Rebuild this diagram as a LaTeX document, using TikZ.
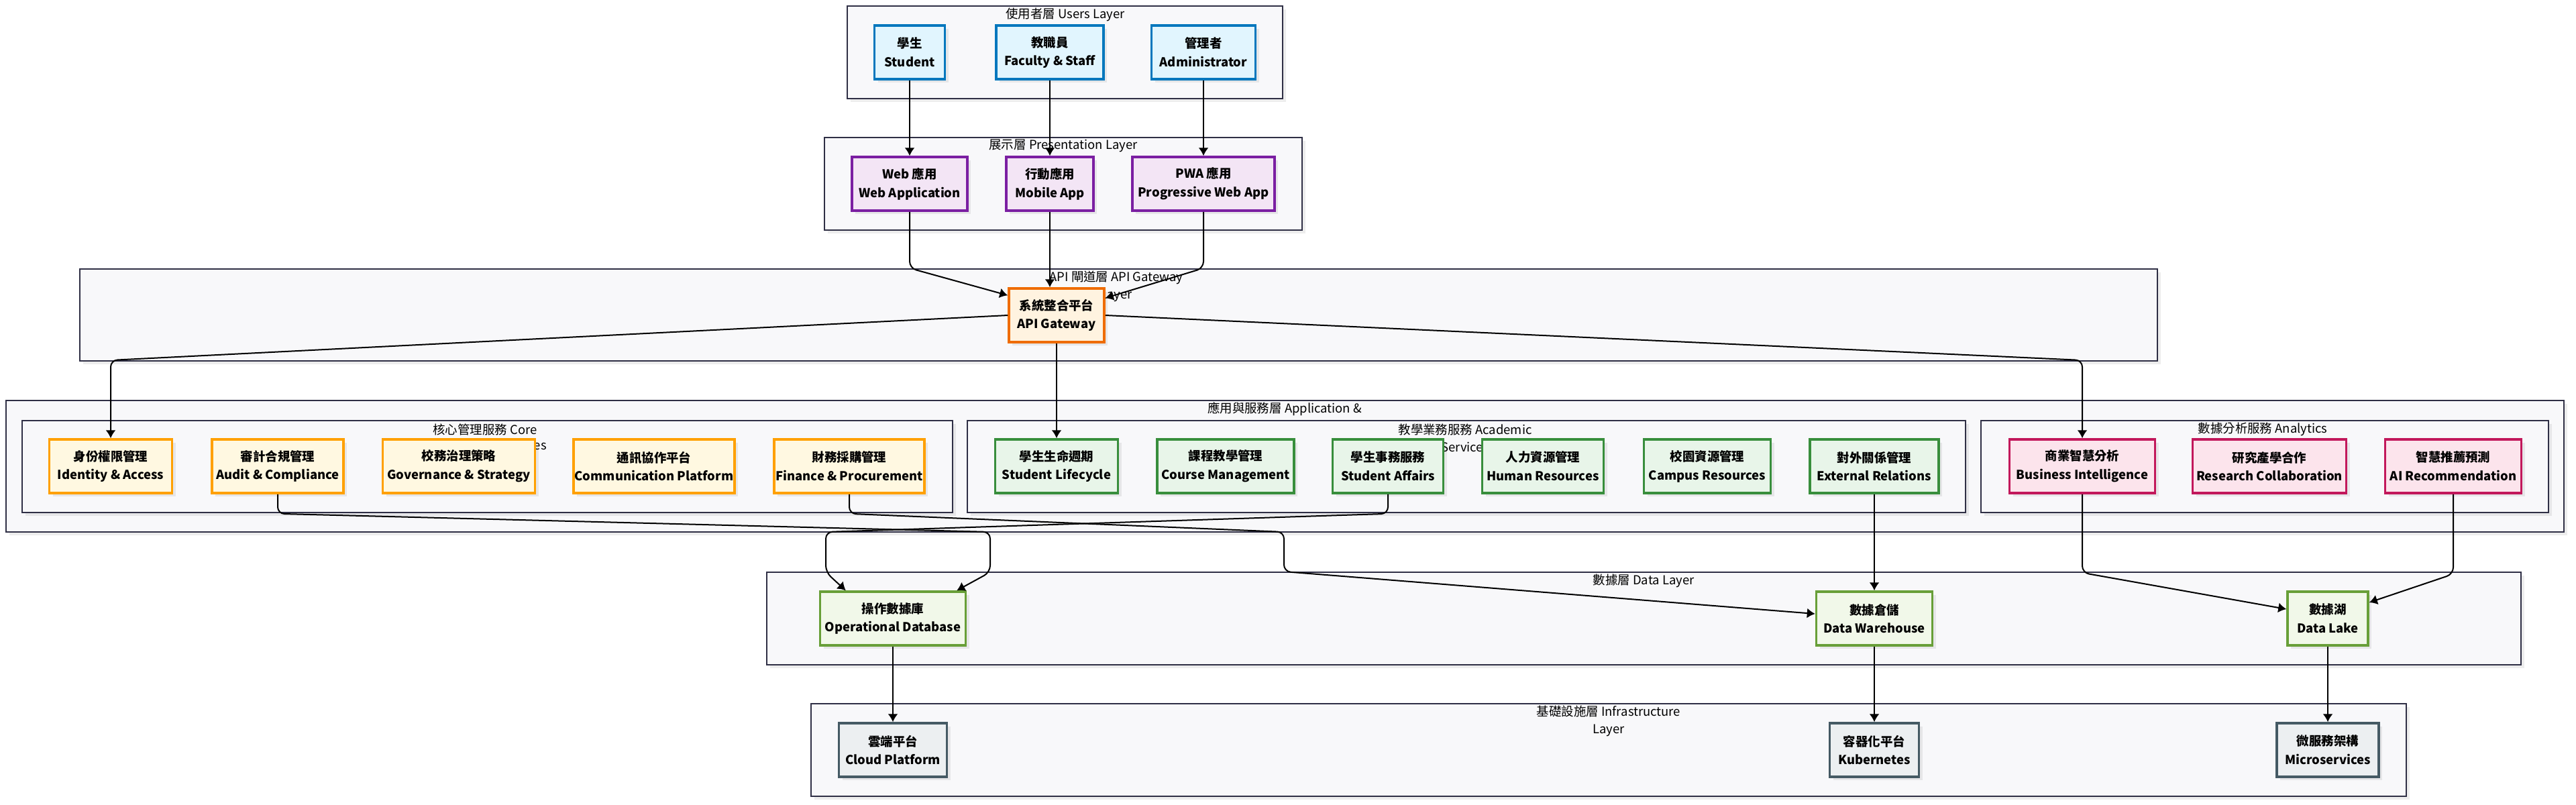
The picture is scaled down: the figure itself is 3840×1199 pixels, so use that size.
\documentclass[tikz,border=0pt]{standalone}
\usepackage{fontspec}
\setmainfont{Noto Sans CJK TC}
\usetikzlibrary{positioning, arrows.meta, shadows}

\definecolor{layerfill}{HTML}{F8F8FA}
\definecolor{layerdraw}{HTML}{2F2F45}
\definecolor{userfill}{HTML}{E1F5FE}
\definecolor{userdraw}{HTML}{0277BD}
\definecolor{presfill}{HTML}{F3E5F5}
\definecolor{presdraw}{HTML}{7B1FA2}
\definecolor{gwfill}{HTML}{FFF3E0}
\definecolor{gwdraw}{HTML}{EF6C00}
\definecolor{corefill}{HTML}{FFF8E1}
\definecolor{coredraw}{HTML}{FFA000}
\definecolor{acadfill}{HTML}{E8F5E9}
\definecolor{acaddraw}{HTML}{388E3C}
\definecolor{anafill}{HTML}{FCE4EC}
\definecolor{anadraw}{HTML}{C2185B}
\definecolor{datafill}{HTML}{F1F8E9}
\definecolor{datadraw}{HTML}{689F38}
\definecolor{infrafill}{HTML}{ECEFF1}
\definecolor{infradraw}{HTML}{455A64}

\tikzset{
  softshadow/.style={drop shadow={shadow xshift=1mm, shadow yshift=-1mm, fill=black, opacity=0.07}},
  layerbox/.style={draw=layerdraw, fill=layerfill, line width=0.45mm, softshadow},
  laytitle/.style={font=\fontsize{10.5}{14.8}\selectfont, inner sep=0pt, align=center},
  svcbox/.style={draw, line width=0.7mm, minimum height=16mm, inner sep=0pt, align=center,
    font=\bfseries\fontsize{10.5}{15.8}\selectfont, softshadow},
  bw/.style={minimum width=#1*0.2mm},
  usernode/.style={svcbox, draw=userdraw, fill=userfill},
  presnode/.style={svcbox, draw=presdraw, fill=presfill},
  gwnode/.style={svcbox, draw=gwdraw, fill=gwfill},
  corenode/.style={svcbox, draw=coredraw, fill=corefill},
  acadnode/.style={svcbox, draw=acaddraw, fill=acadfill},
  ananode/.style={svcbox, draw=anadraw, fill=anafill},
  datanode/.style={svcbox, draw=datadraw, fill=datafill},
  infranode/.style={svcbox, draw=infradraw, fill=infrafill},
  conn/.style={->, line width=0.4mm, rounded corners=2mm}
}

\begin{document}
\begin{tikzpicture}[x=0.2mm,y=-0.2mm,>={Latex[length=2.4mm,width=3mm]}]

\useasboundingbox (0,0) rectangle (3840,1199);

% couches
\draw[layerbox] (1263,9) rectangle (1912,147);
\draw[layerbox] (1229,205) rectangle (1941,343);
\draw[layerbox] (119,401) rectangle (3216,538);
\draw[layerbox] (9,597) rectangle (3822,793);
\draw[layerbox] (33,627) rectangle (1420,764);
\draw[layerbox] (1442,627) rectangle (2930,764);
\draw[layerbox] (2953,627) rectangle (3799,764);
\draw[layerbox] (1143,853) rectangle (3758,991);
\draw[layerbox] (1209,1049) rectangle (3587,1187);

% titres
\node[laytitle] (tusers) at (1588,22) {使用者層 Users Layer};
\node[laytitle] (tpres) at (1585,217) {展示層 Presentation Layer};
\node[laytitle] (tapi) at (1664,427) {API 閘道層 API Gateway\\Layer};
\node[laytitle] (tapp) at (1915,610) {應用與服務層 Application \&};
\node[laytitle] (tcore) at (723,640) {核心管理服務 Core};
\node[laytitle, anchor=east] (tcoreb) at (815,666) {Management Services};
\node[laytitle] (tacad) at (2184,653) {教學業務服務 Academic\\Services};
\node[laytitle] (tana) at (3373,640) {數據分析服務 Analytics};
\node[laytitle] (tdata) at (2450,866) {數據層 Data Layer};
\node[laytitle] (tinfra) at (2398,1075) {基礎設施層 Infrastructure\\Layer};

% noeuds
\node[usernode, bw=105] (student) at (1356,78) {學生\\Student};
\node[usernode, bw=160] (faculty) at (1565,78) {教職員\\Faculty \& Staff};
\node[usernode, bw=155] (admin) at (1794,78) {管理者\\Administrator};

\node[presnode, bw=172] (webapp) at (1356,274) {Web 應用\\Web Application};
\node[presnode, bw=130] (mobile) at (1565,274) {行動應用\\Mobile App};
\node[presnode, bw=212] (pwa) at (1794,274) {PWA 應用\\Progressive Web App};

\node[gwnode, bw=142] (gateway) at (1575,470) {系統整合平台\\API Gateway};

\node[corenode, bw=183] (identity) at (165,695) {身份權限管理\\Identity \& Access};
\node[corenode, bw=196] (audit) at (414,695) {審計合規管理\\Audit \& Compliance};
\node[corenode, bw=227] (governance) at (684,695) {校務治理策略\\Governance \& Strategy};
\node[corenode, bw=240] (comm) at (975,695) {通訊協作平台\\Communication Platform};
\node[corenode, bw=224] (finance) at (1266,695) {財務採購管理\\Finance \& Procurement};

\node[acadnode, bw=183] (lifecycle) at (1575,695) {學生生命週期\\Student Lifecycle};
\node[acadnode, bw=204] (course) at (1827,695) {課程教學管理\\Course Management};
\node[acadnode, bw=165] (affairs) at (2069,695) {學生事務服務\\Student Affairs};
\node[acadnode, bw=181] (hr) at (2300,695) {人力資源管理\\Human Resources};
\node[acadnode, bw=189] (campus) at (2545,695) {校園資源管理\\Campus Resources};
\node[acadnode, bw=192] (external) at (2794,695) {對外關係管理\\External Relations};

\node[ananode, bw=217] (bi) at (3104,695) {商業智慧分析\\Business Intelligence};
\node[ananode, bw=229] (research) at (3383,695) {研究產學合作\\Research Collaboration};
\node[ananode, bw=203] (ai) at (3657,695) {智慧推薦預測\\AI Recommendation};

\node[datanode, bw=217] (odb) at (1331,922) {操作數據庫\\Operational Database};
\node[datanode, bw=173] (dw) at (2794,922) {數據倉儲\\Data Warehouse};
\node[datanode, bw=120] (dl) at (3470,922) {數據湖\\Data Lake};

\node[infranode, bw=161] (cloud) at (1331,1118) {雲端平台\\Cloud Platform};
\node[infranode, bw=133] (k8s) at (2794,1118) {容器化平台\\Kubernetes};
\node[infranode, bw=152] (micro) at (3470,1118) {微服務架構\\Microservices};

\coordinate (gwlow) at (0,537);

% liens
\draw[conn] (student) -- (webapp);
\draw[conn] (faculty) -- (mobile);
\draw[conn] (admin) -- (pwa);

\draw[conn] (webapp.south) -- ++(0,84) -- ([yshift=-2.4mm]gateway.north west);
\draw[conn] (mobile.south) -- (mobile.south |- gateway.north);
\draw[conn] (pwa.south) -- ++(0,84) -- ([yshift=-3.2mm]gateway.north east);

\draw[conn] (gateway.west) -- (identity.north |- gwlow) -- (identity.north);
\draw[conn] (gateway) -- (lifecycle);
\draw[conn] (gateway.east) -- (bi.north |- gwlow) -- (bi.north);

\draw[conn] (audit.south) -- ++(0,29) -- (1476,793) -- ++(0,60) -- ([xshift=-3mm]odb.north east);
\draw[conn] (affairs.south) -- ++(0,29) -- (1231,793) -- ++(0,60) -- ([xshift=8mm]odb.north west);
\draw[conn] (finance.south) -- ++(0,29) -- (1914,793) -- ++(0,59) -- ([yshift=1.4mm]dw.west);
\draw[conn] (external) -- (dw);
\draw[conn] (bi.south) -- ++(0,117) -- ([yshift=2.8mm]dl.west);
\draw[conn] (ai.south) -- ++(0,119) -- ([yshift=4.8mm]dl.east);

\draw[conn] (odb) -- (cloud);
\draw[conn] (dw) -- (k8s);
\draw[conn] (dl) -- (micro);

\end{tikzpicture}
\end{document}
